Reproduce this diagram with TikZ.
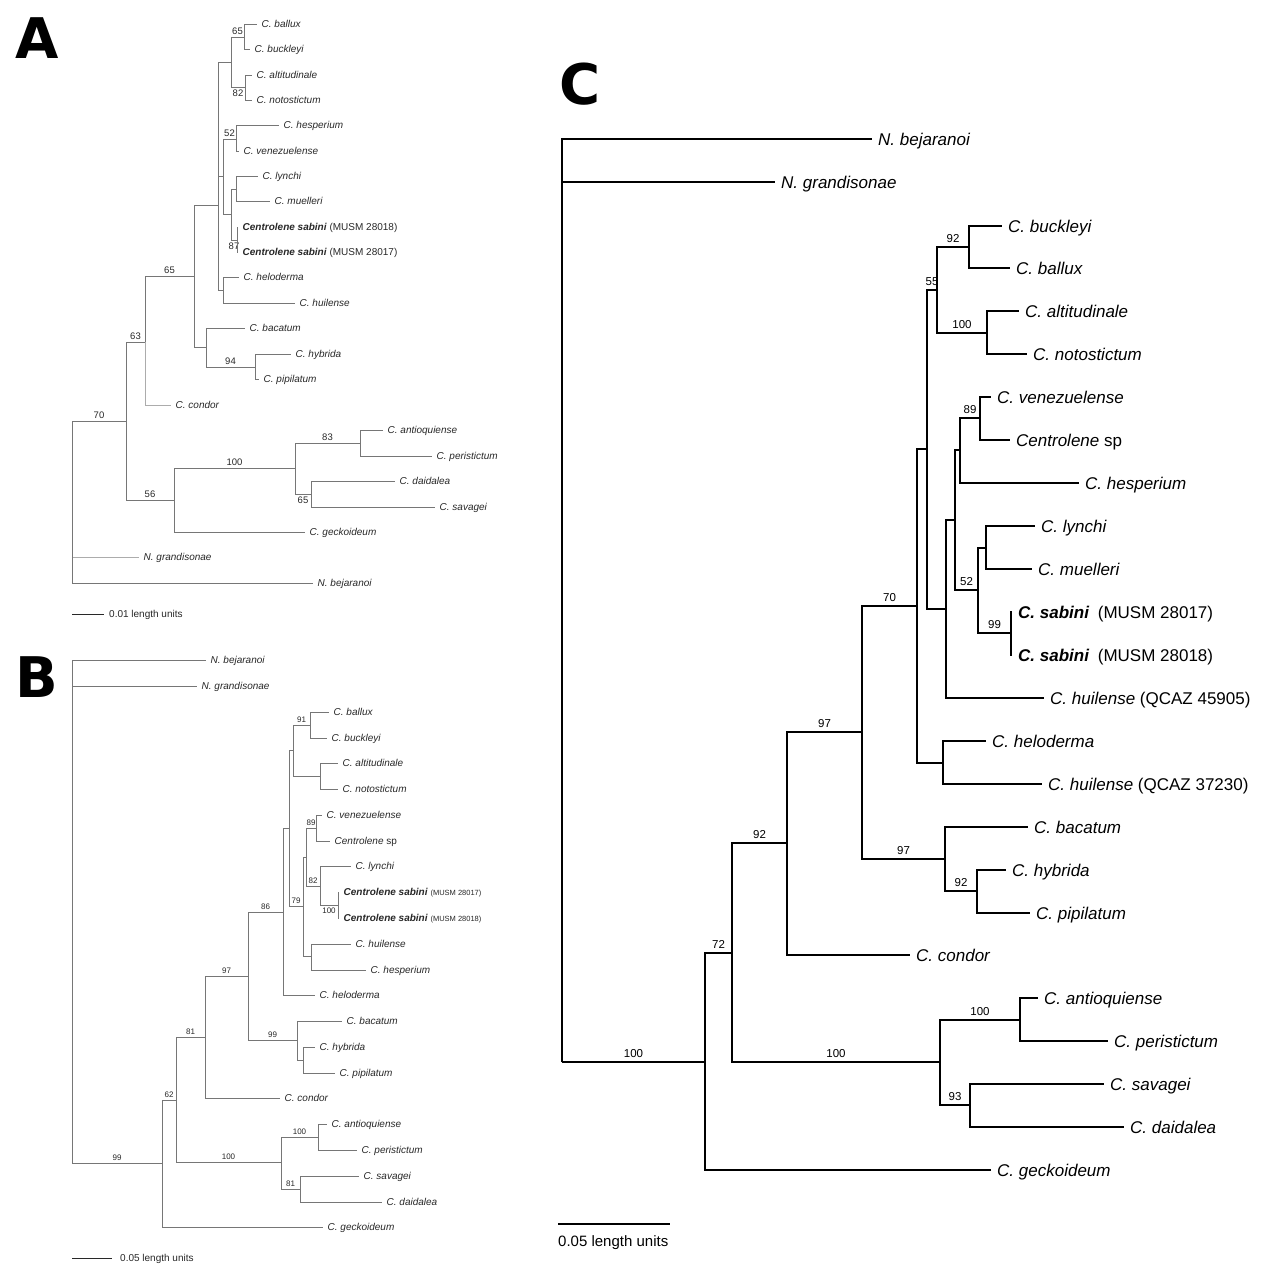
\documentclass[tikz,border=0pt]{standalone}
\usepackage{fontspec}
\setmainfont{Liberation Sans}
\newfontfamily\panelfont{DejaVu Sans}
\usetikzlibrary{positioning}
\definecolor{treegray}{RGB}{118,118,118}
\definecolor{palegray}{RGB}{172,172,172}
\definecolor{labgray}{RGB}{40,40,40}

\begin{document}
\begin{tikzpicture}[x=1pt, y=-1pt,
  panel/.style={anchor=base west, inner sep=0pt, font=\fontsize{56}{60}\selectfont\panelfont\bfseries},
  brc/.style={draw=black, line width=1.5pt},
  brg/.style={draw=treegray, line width=1pt},
  pale/.style={draw=palegray},
  txc/.style={anchor=west, inner xsep=6pt, inner ysep=0pt, text height=12.2pt, text depth=0pt, font=\fontsize{17}{20}\selectfont\itshape},
  txg/.style={anchor=west, inner xsep=4.5pt, inner ysep=0pt, text height=7.2pt, text depth=0pt, text=labgray, font=\fontsize{10}{12}\selectfont\itshape},
  bsc/.style={pos=.75, above, inner xsep=0pt, inner ysep=3.5pt, text height=8.3pt, text depth=0pt, font=\fontsize{11.5}{13}\selectfont},
  bsa/.style={pos=.75, above, inner xsep=0pt, inner ysep=2.5pt, text height=6.8pt, text depth=0pt, text=labgray, font=\fontsize{9.5}{11}\selectfont},
  bsb/.style={bsa, text height=5.8pt, font=\fontsize{8}{10}\selectfont},
  sctxt/.style={inner sep=0pt, text height=7.2pt, text depth=0pt, text=labgray, font=\fontsize{10}{12}\selectfont}]

  \path[fill=white, use as bounding box] (0,0) rectangle (1264,1274);

  % ---- A ----
  \node[panel] (labA) at (15,58) {A};

  \coordinate (aroot) at (72,421);
  \coordinate (an70) at (126,421);
  \coordinate (an63) at (145,342);
  \coordinate (an5) at (194,276);
  \coordinate (an4) at (218,205);
  \coordinate (an1) at (231,62);
  \coordinate (an65) at (244,37);
  \coordinate (an82) at (245,87);
  \coordinate (an3) at (223,176);
  \coordinate (an52) at (236,139);
  \coordinate (an2) at (231,214);
  \coordinate (anlm) at (236,189);
  \coordinate (an87) at (237,240);
  \coordinate (anhh) at (223,290);
  \coordinate (anba) at (206,347);
  \coordinate (an94) at (255,367);
  \coordinate (an56) at (174,500);
  \coordinate (an100) at (295,468);
  \coordinate (an83) at (360,443);
  \coordinate (an65c) at (311,494);

  \node[txg] (aball) at (257,24) {C. ballux};
  \node[txg] (abuck) at (250,49) {C. buckleyi};
  \node[txg] (aalti) at (252,75) {C. altitudinale};
  \node[txg] (anoto) at (252,100) {C. notostictum};
  \node[txg] (ahesp) at (279,125) {C. hesperium};
  \node[txg] (avene) at (239,151) {C. venezuelense};
  \node[txg] (alync) at (258,176) {C. lynchi};
  \node[txg] (amuel) at (270,201) {C. muelleri};
  \node[txg] (asab1) at (238,227) {\textbf{Centrolene sabini} \textup{(MUSM 28018)}};
  \node[txg] (asab2) at (238,252) {\textbf{Centrolene sabini} \textup{(MUSM 28017)}};
  \node[txg] (ahelo) at (239,277) {C. heloderma};
  \node[txg] (ahuil) at (295,303) {C. huilense};
  \node[txg] (abaca) at (245,328) {C. bacatum};
  \node[txg] (ahybr) at (291,354) {C. hybrida};
  \node[txg] (apipi) at (259,379) {C. pipilatum};
  \node[txg] (acond) at (171,405) {C. condor};
  \node[txg] (aanti) at (383,430) {C. antioquiense};
  \node[txg] (aperi) at (432,456) {C. peristictum};
  \node[txg] (adaid) at (395,481) {C. daidalea};
  \node[txg] (asava) at (435,507) {C. savagei};
  \node[txg] (ageck) at (305,532) {C. geckoideum};
  \node[txg] (agran) at (139,557) {N. grandisonae};
  \node[txg] (abeja) at (313,583) {N. bejaranoi};

  \draw[brg] (aroot) |- node[bsa]{70} (an70);
  \draw[brg, pale] (aroot) |- (agran);
  \draw[brg] (aroot) |- (abeja);
  \draw[brg] (an70) |- node[bsa]{63} (an63);
  \draw[brg] (an70) |- node[bsa]{56} (an56);
  \draw[brg] (an63) |- node[bsa]{65} (an5);
  \draw[brg, pale] (an63) |- (acond);
  \draw[brg] (an5) |- (an4);
  \draw[brg] (an5) |- (anba);
  \draw[brg] (an4) |- (an1);
  \draw[brg] (an4) |- (an3);
  \draw[brg] (an4) |- (anhh);
  \draw[brg] (an1) |- node[bsa]{65} (an65);
  \draw[brg] (an1) |- node[bsa, below]{82} (an82);
  \draw[brg] (an65) |- (aball);
  \draw[brg] (an65) |- (abuck);
  \draw[brg] (an82) |- (aalti);
  \draw[brg] (an82) |- (anoto);
  \draw[brg] (an3) |- node[bsa]{52} (an52);
  \draw[brg] (an3) |- (an2);
  \draw[brg] (an52) |- (ahesp);
  \draw[brg] (an52) |- (avene);
  \draw[brg] (an2) |- (anlm);
  \draw[brg] (an2) |- node[bsa, below]{87} (an87);
  \draw[brg] (anlm) |- (alync);
  \draw[brg] (anlm) |- (amuel);
  \draw[brg] (an87) |- (asab1);
  \draw[brg] (an87) |- (asab2);
  \draw[brg] (anhh) |- (ahelo);
  \draw[brg] (anhh) |- (ahuil);
  \draw[brg] (anba) |- (abaca);
  \draw[brg] (anba) |- node[bsa]{94} (an94);
  \draw[brg] (an94) |- (ahybr);
  \draw[brg] (an94) |- (apipi);
  \draw[brg] (an56) |- node[bsa]{100} (an100);
  \draw[brg] (an56) |- (ageck);
  \draw[brg] (an100) |- node[bsa]{83} (an83);
  \draw[brg] (an100) |- node[bsa, below]{65} (an65c);
  \draw[brg] (an83) |- (aanti);
  \draw[brg] (an83) |- (aperi);
  \draw[brg] (an65c) |- (adaid);
  \draw[brg] (an65c) |- (asava);

  \coordinate (asbl) at (72,614);
  \coordinate (asbr) at (104,614);
  \draw[brg, draw=labgray] (asbl) -- (asbr);
  \node[sctxt, right=5pt of asbr] (asbt) {0.01 length units};

  % ---- B ----
  \node[panel] (labB) at (15,697) {B};

  \coordinate (broot) at (72,1163);
  \coordinate (bn162) at (162,1163);
  \coordinate (bn176) at (176,1100);
  \coordinate (bn205) at (205,1037);
  \coordinate (bn248) at (248,976);
  \coordinate (bn283) at (283,912);
  \coordinate (bn289) at (289,828);
  \coordinate (bn293) at (293,750);
  \coordinate (bn91) at (310,725);
  \coordinate (bnan) at (320,776);
  \coordinate (bn79) at (303,906);
  \coordinate (bn306) at (306,857);
  \coordinate (bn89) at (316,828);
  \coordinate (bn82) at (320,886);
  \coordinate (bnsab) at (338,905);
  \coordinate (bnhh) at (311,956);
  \coordinate (bn99) at (297,1040);
  \coordinate (bnhp) at (303,1060);
  \coordinate (bn281) at (281,1162);
  \coordinate (bnap) at (318,1137);
  \coordinate (bn81) at (300,1189);

  \node[txg] (bbeja) at (206,660) {N. bejaranoi};
  \node[txg] (bgran) at (197,686) {N. grandisonae};
  \node[txg] (bball) at (329,712) {C. ballux};
  \node[txg] (bbuck) at (327,738) {C. buckleyi};
  \node[txg] (balti) at (338,763) {C. altitudinale};
  \node[txg] (bnoto) at (338,789) {C. notostictum};
  \node[txg] (bvene) at (322,815) {C. venezuelense};
  \node[txg] (bcsp) at (330,841) {Centrolene \textup{sp}};
  \node[txg] (blync) at (351,866) {C. lynchi};
  \node[txg] (bsab1) at (339,892) {\textbf{Centrolene sabini} \textup{\fontsize{7.5}{9}\selectfont(MUSM 28017)}};
  \node[txg] (bsab2) at (339,918) {\textbf{Centrolene sabini} \textup{\fontsize{7.5}{9}\selectfont(MUSM 28018)}};
  \node[txg] (bhuil) at (351,944) {C. huilense};
  \node[txg] (bhesp) at (366,970) {C. hesperium};
  \node[txg] (bhelo) at (315,995) {C. heloderma};
  \node[txg] (bbaca) at (342,1021) {C. bacatum};
  \node[txg] (bhybr) at (315,1047) {C. hybrida};
  \node[txg] (bpipi) at (335,1073) {C. pipilatum};
  \node[txg] (bcond) at (280,1098) {C. condor};
  \node[txg] (banti) at (327,1124) {C. antioquiense};
  \node[txg] (bperi) at (357,1150) {C. peristictum};
  \node[txg] (bsava) at (359,1176) {C. savagei};
  \node[txg] (bdaid) at (382,1202) {C. daidalea};
  \node[txg] (bgeck) at (323,1227) {C. geckoideum};

  \draw[brg] (broot) |- (bbeja);
  \draw[brg] (broot) |- (bgran);
  \draw[brg] (broot) |- node[bsb]{99} (bn162);
  \draw[brg] (bn162) |- node[bsb]{62} (bn176);
  \draw[brg] (bn162) |- (bgeck);
  \draw[brg] (bn176) |- node[bsb]{81} (bn205);
  \draw[brg] (bn176) |- node[bsb]{100} (bn281);
  \draw[brg] (bn205) |- node[bsb]{97} (bn248);
  \draw[brg] (bn205) |- (bcond);
  \draw[brg] (bn248) |- node[bsb]{86} (bn283);
  \draw[brg] (bn248) |- node[bsb]{99} (bn99);
  \draw[brg] (bn283) |- (bn289);
  \draw[brg] (bn283) |- (bhelo);
  \draw[brg] (bn289) |- (bn293);
  \draw[brg] (bn289) |- node[bsb]{79} (bn79);
  \draw[brg] (bn293) |- node[bsb]{91} (bn91);
  \draw[brg] (bn293) |- (bnan);
  \draw[brg] (bn91) |- (bball);
  \draw[brg] (bn91) |- (bbuck);
  \draw[brg] (bnan) |- (balti);
  \draw[brg] (bnan) |- (bnoto);
  \draw[brg] (bn79) |- (bn306);
  \draw[brg] (bn79) |- (bnhh);
  \draw[brg] (bn306) |- node[bsb]{89} (bn89);
  \draw[brg] (bn306) |- node[bsb]{82} (bn82);
  \draw[brg] (bn89) |- (bvene);
  \draw[brg] (bn89) |- (bcsp);
  \draw[brg] (bn82) |- (blync);
  \draw[brg] (bn82) |- node[bsb, below]{100} (bnsab);
  \draw[brg] (bnsab) |- (bsab1);
  \draw[brg] (bnsab) |- (bsab2);
  \draw[brg] (bnhh) |- (bhuil);
  \draw[brg] (bnhh) |- (bhesp);
  \draw[brg] (bn99) |- (bbaca);
  \draw[brg] (bn99) |- (bnhp);
  \draw[brg] (bnhp) |- (bhybr);
  \draw[brg] (bnhp) |- (bpipi);
  \draw[brg] (bn281) |- node[bsb]{100} (bnap);
  \draw[brg] (bn281) |- node[bsb]{81} (bn81);
  \draw[brg] (bnap) |- (banti);
  \draw[brg] (bnap) |- (bperi);
  \draw[brg] (bn81) |- (bsava);
  \draw[brg] (bn81) |- (bdaid);

  \coordinate (bsbl) at (72,1258);
  \coordinate (bsbr) at (112,1258);
  \draw[brg, draw=labgray] (bsbl) -- (bsbr);
  \node[sctxt, right=8pt of bsbr] (bsbt) {0.05 length units};

  % ---- C ----
  \node[panel] (labC) at (559,104) {C};

  \coordinate (croot) at (562,1062);
  \coordinate (cn705) at (705,1062);
  \coordinate (cn732) at (732,953);
  \coordinate (cn787) at (787,843);
  \coordinate (cn862) at (862,732);
  \coordinate (cn917) at (917,606);
  \coordinate (cn927) at (927,449);
  \coordinate (cn937) at (937,290);
  \coordinate (cn969) at (969,247);
  \coordinate (cn987) at (987,333);
  \coordinate (cn946) at (946,609);
  \coordinate (cn955) at (955,520);
  \coordinate (cn960) at (960,450);
  \coordinate (cn980) at (980,418);
  \coordinate (cn978) at (978,590);
  \coordinate (cn986) at (986,548);
  \coordinate (cn1011) at (1011,633);
  \coordinate (cn943) at (943,763);
  \coordinate (cn945) at (945,859);
  \coordinate (cn977) at (977,891);
  \coordinate (cn940) at (940,1062);
  \coordinate (cn1020) at (1020,1020);
  \coordinate (cn970) at (970,1105);

  \node[txc] (cbeja) at (872,139) {N. bejaranoi};
  \node[txc] (cgran) at (775,182) {N. grandisonae};
  \node[txc] (cbuck) at (1002,226) {C. buckleyi};
  \node[txc] (cball) at (1010,268) {C. ballux};
  \node[txc] (calti) at (1019,311) {C. altitudinale};
  \node[txc] (cnoto) at (1027,354) {C. notostictum};
  \node[txc] (cvene) at (991,397) {C. venezuelense};
  \node[txc] (ccsp) at (1010,440) {Centrolene \textup{sp}};
  \node[txc] (chesp) at (1079,483) {C. hesperium};
  \node[txc] (clync) at (1035,526) {C. lynchi};
  \node[txc] (cmuel) at (1032,569) {C. muelleri};
  \node[txc] (csab1) at (1012,612) {\textbf{C. sabini}\hspace{.5em}\textup{(MUSM 28017)}};
  \node[txc] (csab2) at (1012,655) {\textbf{C. sabini}\hspace{.5em}\textup{(MUSM 28018)}};
  \node[txc] (chui1) at (1044,698) {C. huilense \textup{(QCAZ 45905)}};
  \node[txc] (chelo) at (986,741) {C. heloderma};
  \node[txc] (chui2) at (1042,784) {C. huilense \textup{(QCAZ 37230)}};
  \node[txc] (cbaca) at (1028,827) {C. bacatum};
  \node[txc] (chybr) at (1006,870) {C. hybrida};
  \node[txc] (cpipi) at (1030,913) {C. pipilatum};
  \node[txc] (ccond) at (910,955) {C. condor};
  \node[txc] (canti) at (1038,998) {C. antioquiense};
  \node[txc] (cperi) at (1108,1041) {C. peristictum};
  \node[txc] (csava) at (1104,1084) {C. savagei};
  \node[txc] (cdaid) at (1124,1127) {C. daidalea};
  \node[txc] (cgeck) at (991,1170) {C. geckoideum};

  \draw[brc] (croot) |- (cbeja);
  \draw[brc] (croot) |- (cgran);
  \draw[brc] (croot) |- node[bsc]{100} (cn705);
  \draw[brc] (cn705) |- node[bsc]{72} (cn732);
  \draw[brc] (cn705) |- (cgeck);
  \draw[brc] (cn732) |- node[bsc]{92} (cn787);
  \draw[brc] (cn732) |- node[bsc]{100} (cn940);
  \draw[brc] (cn787) |- node[bsc]{97} (cn862);
  \draw[brc] (cn787) |- (ccond);
  \draw[brc] (cn862) |- node[bsc]{70} (cn917);
  \draw[brc] (cn862) |- node[bsc]{97} (cn945);
  \draw[brc] (cn917) |- (cn927);
  \draw[brc] (cn917) |- (cn943);
  \draw[brc] (cn927) |- node[bsc]{55} (cn937);
  \draw[brc] (cn927) |- (cn946);
  \draw[brc] (cn937) |- node[bsc]{92} (cn969);
  \draw[brc] (cn937) |- node[bsc]{100} (cn987);
  \draw[brc] (cn969) |- (cbuck);
  \draw[brc] (cn969) |- (cball);
  \draw[brc] (cn987) |- (calti);
  \draw[brc] (cn987) |- (cnoto);
  \draw[brc] (cn946) |- (cn955);
  \draw[brc] (cn946) |- (chui1);
  \draw[brc] (cn955) |- (cn960);
  \draw[brc] (cn955) |- node[bsc]{52} (cn978);
  \draw[brc] (cn960) |- node[bsc]{89} (cn980);
  \draw[brc] (cn960) |- (chesp);
  \draw[brc] (cn980) |- (cvene);
  \draw[brc] (cn980) |- (ccsp);
  \draw[brc] (cn978) |- (cn986);
  \draw[brc] (cn978) |- node[bsc]{99} (cn1011);
  \draw[brc] (cn986) |- (clync);
  \draw[brc] (cn986) |- (cmuel);
  \draw[brc] (cn1011) |- (csab1);
  \draw[brc] (cn1011) |- (csab2);
  \draw[brc] (cn943) |- (chelo);
  \draw[brc] (cn943) |- (chui2);
  \draw[brc] (cn945) |- (cbaca);
  \draw[brc] (cn945) |- node[bsc]{92} (cn977);
  \draw[brc] (cn977) |- (chybr);
  \draw[brc] (cn977) |- (cpipi);
  \draw[brc] (cn940) |- node[bsc]{100} (cn1020);
  \draw[brc] (cn940) |- node[bsc]{93} (cn970);
  \draw[brc] (cn1020) |- (canti);
  \draw[brc] (cn1020) |- (cperi);
  \draw[brc] (cn970) |- (csava);
  \draw[brc] (cn970) |- (cdaid);

  \coordinate (csbl) at (558,1224);
  \coordinate (csbr) at (670,1224);
  \draw[brc, line width=1.3pt] (csbl) -- (csbr);
  \node[sctxt, text=black, text height=10.8pt, font=\fontsize{15}{18}\selectfont, below right=11pt and 0pt of csbl] (csbt) {0.05 length units};
\end{tikzpicture}
\end{document}
